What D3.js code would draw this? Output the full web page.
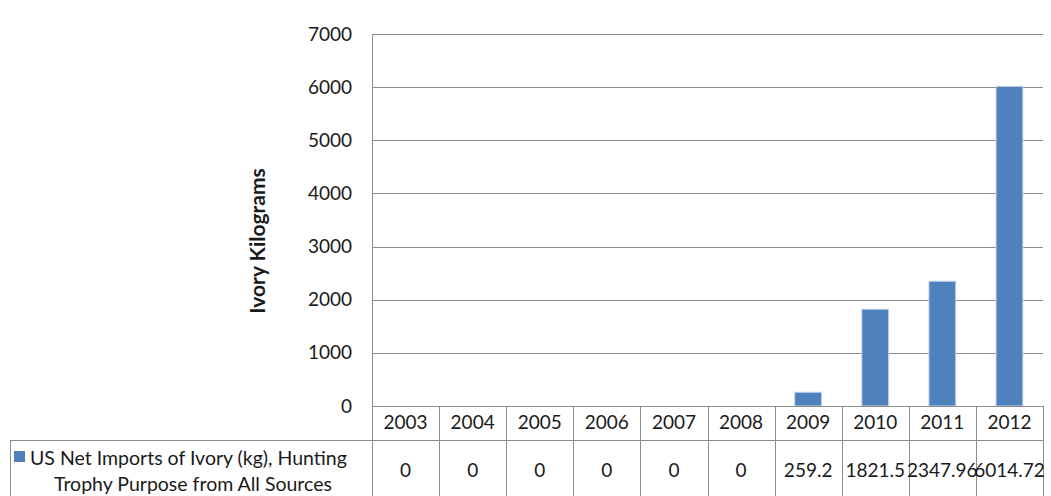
<!DOCTYPE html>
<html>
<head>
<meta charset="utf-8">
<script src="https://cdn.jsdelivr.net/npm/d3@7"></script>
<style>
  html, body { margin: 0; padding: 0; background: #fff; }
  svg { display: block; }
  text { font-family: Lato, "Open Sans", sans-serif; fill: #1a1a1a; }
</style>
</head>
<body>
<svg id="chart" width="1051" height="496"></svg>
<script>
// Chart data
const years = ["2003", "2004", "2005", "2006", "2007", "2008", "2009", "2010", "2011", "2012"];
const importsKg = [0, 0, 0, 0, 0, 0, 259.2, 1821.5, 2347.96, 6014.72];
const yTicks = [0, 1000, 2000, 3000, 4000, 5000, 6000, 7000];
const seriesName = ["US Net Imports of Ivory (kg), Hunting", "Trophy Purpose from All Sources"];
const yTitle = "Ivory Kilograms";

const svg = d3.select("#chart");
const plot = { left: 372, right: 1043, top: 34, bottom: 406 };
const table = { left: 10, rowSplit: 440, bottom: 500 };
const gridColor = "#8c8c8c";
const barColor = "#4f81bd";
const numFont = "19px";

const x = d3.scaleBand().domain(years).range([plot.left, plot.right]).paddingInner(0.6).paddingOuter(0.3);
const band = d3.scaleBand().domain(years).range([plot.left, plot.right]);
const y = d3.scaleLinear().domain([0, 7000]).range([plot.bottom, plot.top]);

// Horizontal gridlines
svg.append("g").selectAll("line").data(yTicks.filter(d => d > 0)).join("line")
  .attr("x1", plot.left).attr("x2", plot.right)
  .attr("y1", d => Math.round(y(d)) + 0.5).attr("y2", d => Math.round(y(d)) + 0.5)
  .attr("stroke", gridColor).attr("stroke-width", 1);

// Y axis labels
const yAxis = d3.axisLeft(y).tickValues(yTicks).tickSize(0).tickPadding(20).tickFormat(d3.format("d"));
const gy = svg.append("g").attr("transform", `translate(${plot.left},0)`).call(yAxis);
gy.select(".domain").remove();
gy.selectAll("text").style("font-family", "Lato, 'Open Sans', sans-serif").style("font-size", numFont).attr("fill", "#1a1a1a");

// Y axis title
svg.append("text")
  .attr("transform", "translate(265,241) rotate(-90)")
  .attr("text-anchor", "middle")
  .style("font-size", "21px").style("font-weight", "bold")
  .text(yTitle);

// Bars
svg.append("g").selectAll("rect").data(years.map((yr, i) => ({ yr, v: importsKg[i] })).filter(d => d.v > 0)).join("rect")
  .attr("x", d => x(d.yr)).attr("width", x.bandwidth())
  .attr("y", d => y(d.v)).attr("height", d => y(0) - y(d.v))
  .attr("fill", barColor).attr("stroke", "#c6d5ea").attr("stroke-width", 1);

// Data table lines
const lines = svg.append("g").attr("stroke", gridColor).attr("stroke-width", 1);
lines.append("line").attr("x1", plot.left).attr("x2", plot.right)
  .attr("y1", plot.bottom + 0.5).attr("y2", plot.bottom + 0.5);
lines.append("line").attr("x1", table.left).attr("x2", plot.right)
  .attr("y1", table.rowSplit + 0.5).attr("y2", table.rowSplit + 0.5);
lines.append("line").attr("x1", plot.left + 0.5).attr("x2", plot.left + 0.5)
  .attr("y1", plot.top).attr("y2", table.bottom);
lines.append("line").attr("x1", table.left + 0.5).attr("x2", table.left + 0.5)
  .attr("y1", table.rowSplit).attr("y2", table.bottom);
lines.selectAll("line.div").data(years).join("line").attr("class", "div")
  .attr("x1", d => Math.round(band(d) + band.bandwidth()) + 0.5)
  .attr("x2", d => Math.round(band(d) + band.bandwidth()) + 0.5)
  .attr("y1", plot.bottom).attr("y2", table.bottom);

// Year header row
svg.append("g").selectAll("text").data(years).join("text")
  .attr("x", d => band(d) + band.bandwidth() / 2).attr("y", 429)
  .attr("text-anchor", "middle").style("font-size", numFont)
  .text(d => d);

// Value row
svg.append("g").selectAll("text").data(years).join("text")
  .attr("x", d => band(d) + band.bandwidth() / 2).attr("y", 477)
  .attr("text-anchor", "middle").style("font-size", numFont)
  .text((d, i) => String(importsKg[i]));

// Series label with legend key
const lbl = svg.append("g");
lbl.append("rect").attr("x", 14).attr("y", 451).attr("width", 11).attr("height", 11).attr("fill", barColor);
lbl.append("text").attr("x", 30).attr("y", 465).style("font-size", "19.5px").text(seriesName[0]);
lbl.append("text").attr("x", 193).attr("y", 491).attr("text-anchor", "middle").style("font-size", "19.5px").text(seriesName[1]);
</script>
</body>
</html>
